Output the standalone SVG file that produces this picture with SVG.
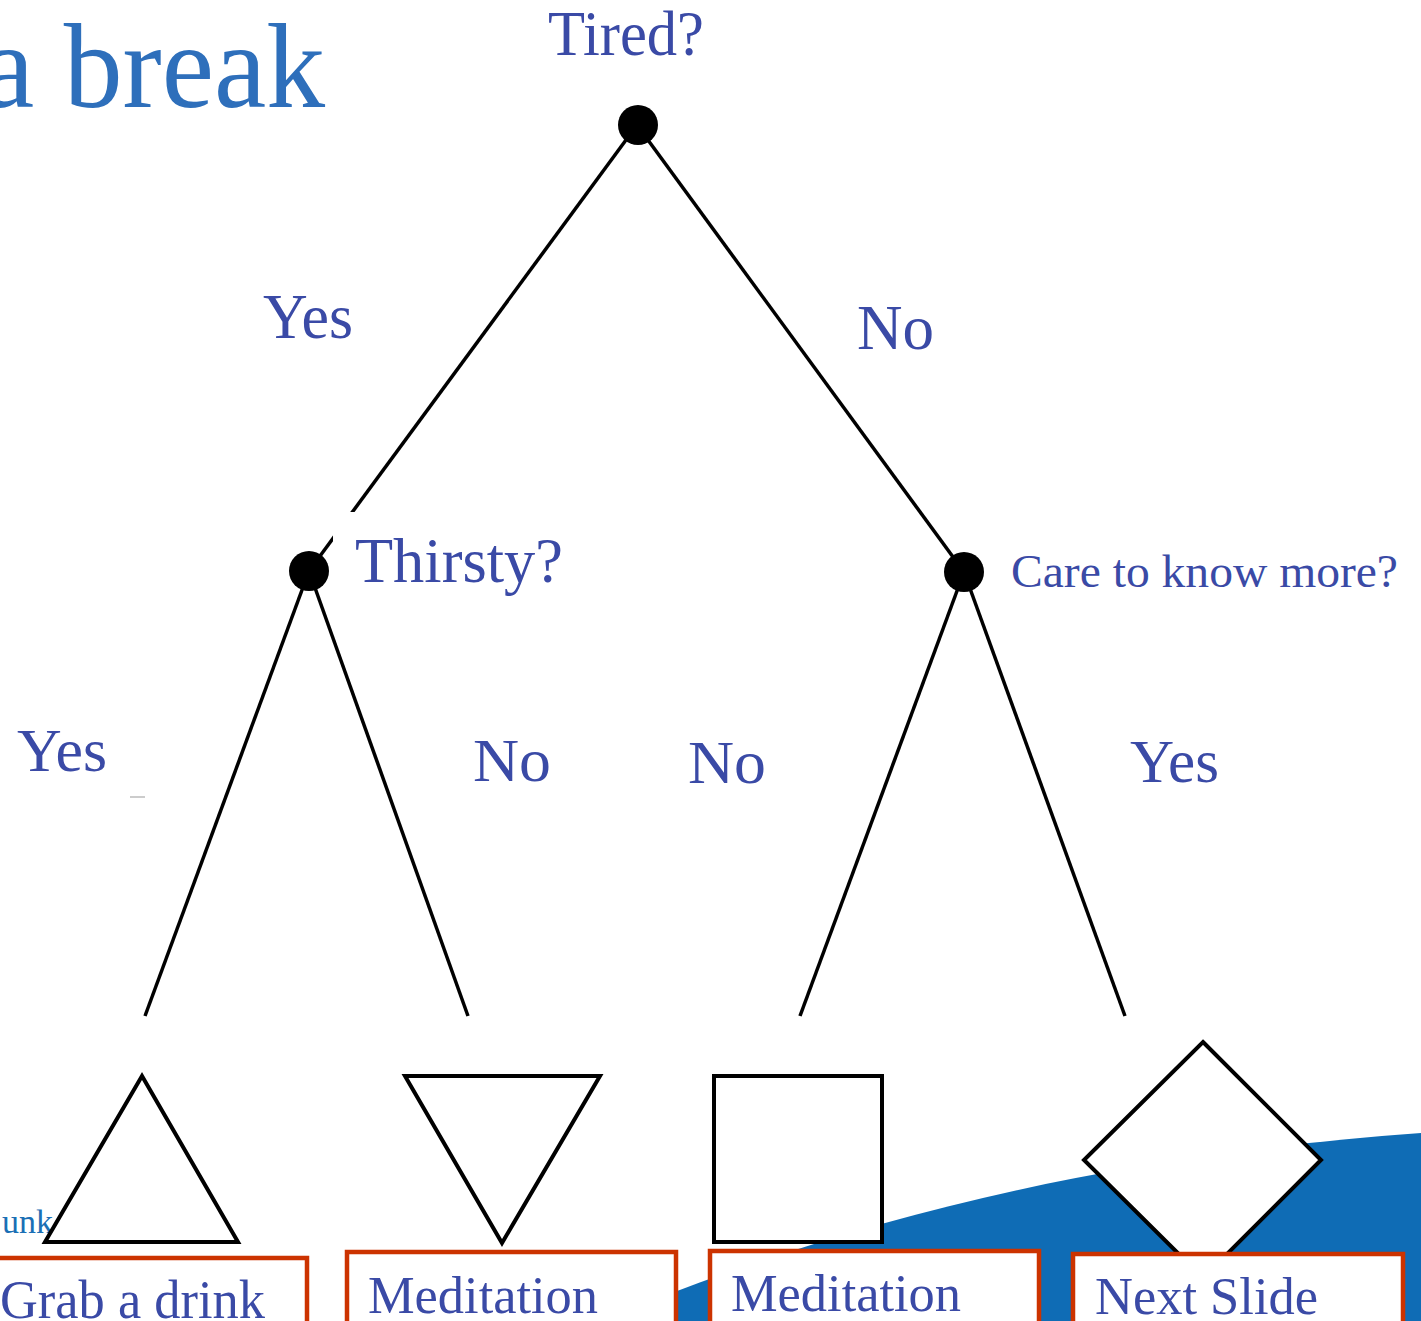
<svg xmlns="http://www.w3.org/2000/svg" width="1421" height="1321" viewBox="0 0 1421 1321">
  <style>
    .lbl { font-family: "Liberation Serif", "Times New Roman", serif; fill: #3a4aa6; }
    .title { font-family: "Liberation Serif", "Times New Roman", serif; fill: #2e6fbb; }
    .edge { stroke: #000; stroke-width: 3.5; fill: none; stroke-linecap: butt; }
    .dot { fill: #000; }
    .shape { fill: #fff; stroke: #000; stroke-width: 4; stroke-linejoin: miter; }
    .box { fill: #fff; stroke: #cc3300; stroke-width: 4.5; }
  </style>

  <rect width="1421" height="1321" fill="#fff"/>

  <!-- background swoosh -->
  <path d="M 600 1321 C 800 1240 1050 1160 1421 1133 L 1421 1321 Z" fill="#0f6cb5"/>

  <!-- heading fragment -->
  <text class="title" x="-18" y="107" font-size="120" textLength="343" lengthAdjust="spacingAndGlyphs">a break</text>
  <text x="2" y="1233" font-family="Liberation Serif, serif" font-size="34" fill="#1a6fb5">unk</text>
  <line x1="130" y1="797" x2="145" y2="797" stroke="#bbb" stroke-width="1.5"/>

  <!-- connectors -->
  <g id="connectors">
    <line class="edge" x1="637" y1="125" x2="309" y2="571"/>
    <line class="edge" x1="637" y1="125" x2="964" y2="572"/>
    <line class="edge" x1="309" y1="571" x2="145" y2="1016"/>
    <line class="edge" x1="309" y1="571" x2="468" y2="1016"/>
    <line class="edge" x1="964" y1="572" x2="800" y2="1016"/>
    <line class="edge" x1="964" y1="572" x2="1125" y2="1016"/>
  </g>

  <!-- edge labels -->
  <g id="edge-labels">
    <text class="lbl" x="263" y="338" font-size="64" textLength="90" lengthAdjust="spacingAndGlyphs">Yes</text>
    <text class="lbl" x="857" y="349" font-size="64" textLength="77" lengthAdjust="spacingAndGlyphs">No</text>
    <text class="lbl" x="17" y="771" font-size="62" textLength="90" lengthAdjust="spacingAndGlyphs">Yes</text>
    <text class="lbl" x="473" y="781" font-size="62" textLength="78" lengthAdjust="spacingAndGlyphs">No</text>
    <text class="lbl" x="688" y="783" font-size="62" textLength="78" lengthAdjust="spacingAndGlyphs">No</text>
    <text class="lbl" x="1130" y="782" font-size="62" textLength="89" lengthAdjust="spacingAndGlyphs">Yes</text>
  </g>

  <!-- decision nodes -->
  <g id="node-tired">
    <circle class="dot" cx="638" cy="125" r="20"/>
    <text class="lbl" x="548" y="55" font-size="63" textLength="156" lengthAdjust="spacingAndGlyphs">Tired?</text>
  </g>
  <g id="node-thirsty">
    <rect x="333" y="512" width="235" height="82" fill="#fff"/>
    <circle class="dot" cx="309" cy="571" r="20"/>
    <text class="lbl" x="355" y="582" font-size="63" textLength="208" lengthAdjust="spacingAndGlyphs">Thirsty?</text>
  </g>
  <g id="node-care">
    <circle class="dot" cx="964" cy="572" r="20"/>
    <text class="lbl" x="1011" y="587" font-size="46" textLength="387" lengthAdjust="spacingAndGlyphs">Care to know more?</text>
  </g>

  <!-- outcome nodes -->
  <g id="leaf-drink">
    <polygon class="shape" points="142,1076 45,1242 238,1242"/>
    <rect class="box" x="-5" y="1258" width="312" height="80"/>
    <text class="lbl" x="0" y="1318" font-size="54" textLength="265" lengthAdjust="spacingAndGlyphs">Grab a drink</text>
  </g>
  <g id="leaf-meditation-1">
    <polygon class="shape" points="405,1076 600,1076 502,1243"/>
    <rect class="box" x="347" y="1252" width="329" height="80"/>
    <text class="lbl" x="368" y="1313" font-size="53" textLength="230" lengthAdjust="spacingAndGlyphs">Meditation</text>
  </g>
  <g id="leaf-meditation-2">
    <rect class="shape" x="714" y="1076" width="168" height="166"/>
    <rect class="box" x="710" y="1251" width="329" height="80"/>
    <text class="lbl" x="731" y="1311" font-size="53" textLength="230" lengthAdjust="spacingAndGlyphs">Meditation</text>
  </g>
  <g id="leaf-next">
    <polygon class="shape" points="1203,1042 1321,1160 1203,1278 1084,1160"/>
    <rect class="box" x="1073" y="1254" width="330" height="80"/>
    <text class="lbl" x="1095" y="1314" font-size="53" textLength="223" lengthAdjust="spacingAndGlyphs">Next Slide</text>
  </g>
</svg>
